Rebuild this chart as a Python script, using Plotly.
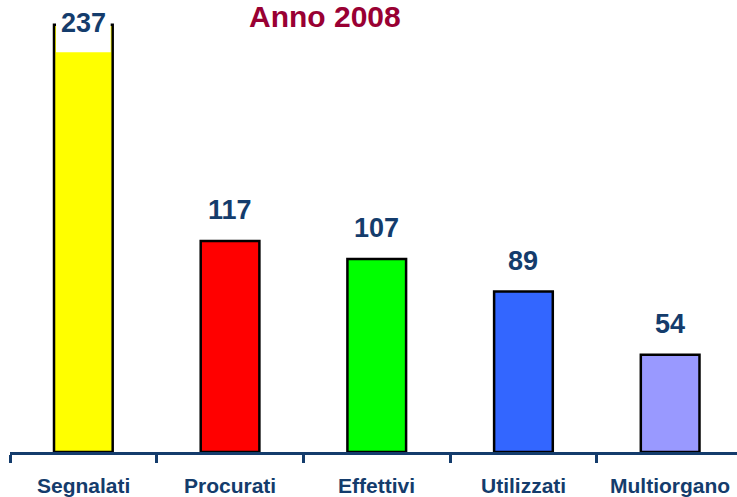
import plotly.graph_objects as go

categories = ["Segnalati", "Procurati", "Effettivi", "Utilizzati", "Multiorgano"]
values = [237, 117, 107, 89, 54]
bar_colors = ["#FFFF00", "#FF0000", "#00FF00", "#3366FF", "#9999FF"]
title_text = "Anno 2008"

NAVY = "#143C6C"
TITLE_RED = "#990033"
W, H = 737, 497
ML, MR, MT, MB = 10, 0, 0, 45
px_per_cat = 146.7
x_range = [-0.5, -0.5 + (W - ML - MR) / px_per_cat]
y_top = 250.7
y_range = [0, y_top]
px_per_unit = (H - MT - MB) / y_top

xs = list(range(len(categories)))

fig = go.Figure()
fig.add_trace(go.Bar(
    x=xs, y=values, width=0.4,
    marker=dict(color=bar_colors, line=dict(color="black", width=2.5)),
    hoverinfo="skip",
))

annotations = []
shapes = []
ymax = max(values)
for xi, v in zip(xs, values):
    if v == ymax:
        # label sits inside the clipped top of the tallest bar on a white box
        inner = 0.2 - 2.0 / px_per_cat
        shapes.append(dict(type="rect", xref="x", yref="y",
                           x0=xi - inner, x1=xi + inner,
                           y0=v - 27.5 / px_per_unit, y1=y_top + 5,
                           fillcolor="white", line=dict(width=0), layer="above"))
        annotations.append(dict(x=xi, y=v, xref="x", yref="y", text=f"<b>{v}</b>",
                                showarrow=False, yanchor="middle", yshift=2,
                                font=dict(family="Liberation Sans, Arial", size=27, color=NAVY)))
    else:
        annotations.append(dict(x=xi, y=v, xref="x", yref="y", text=f"<b>{v}</b>",
                                showarrow=False, yanchor="bottom", yshift=14,
                                font=dict(family="Liberation Sans, Arial", size=27, color=NAVY)))

for xi, c in zip(xs, categories):
    annotations.append(dict(x=xi, y=0, xref="x", yref="paper", text=f"<b>{c}</b>",
                            showarrow=False, yanchor="middle", yshift=-33,
                            font=dict(family="Liberation Sans, Arial", size=21, color=NAVY)))

annotations.append(dict(x=(325 - ML) / (W - ML - MR), y=1, xref="paper", yref="paper",
                        text=f"<b>{title_text}</b>", showarrow=False,
                        yanchor="top", yshift=2,
                        font=dict(family="Liberation Sans, Arial", size=30, color=TITLE_RED)))

fig.update_layout(
    width=W, height=H,
    margin=dict(l=ML, r=MR, t=MT, b=MB),
    paper_bgcolor="white", plot_bgcolor="white",
    showlegend=False,
    annotations=annotations,
    shapes=shapes,
    xaxis=dict(range=x_range, showline=True, linecolor=NAVY, linewidth=3,
               showgrid=False, zeroline=False,
               tickmode="array", tickvals=[i - 0.5 for i in range(len(categories) + 1)],
               ticktext=[""] * (len(categories) + 1),
               ticks="outside", ticklen=8, tickwidth=3, tickcolor=NAVY),
    yaxis=dict(range=y_range, visible=False, showgrid=False, zeroline=False),
)

fig.write_html("out.html", config={"displayModeBar": False},
               post_script="document.body.style.margin='0';document.body.style.overflow='hidden';")
